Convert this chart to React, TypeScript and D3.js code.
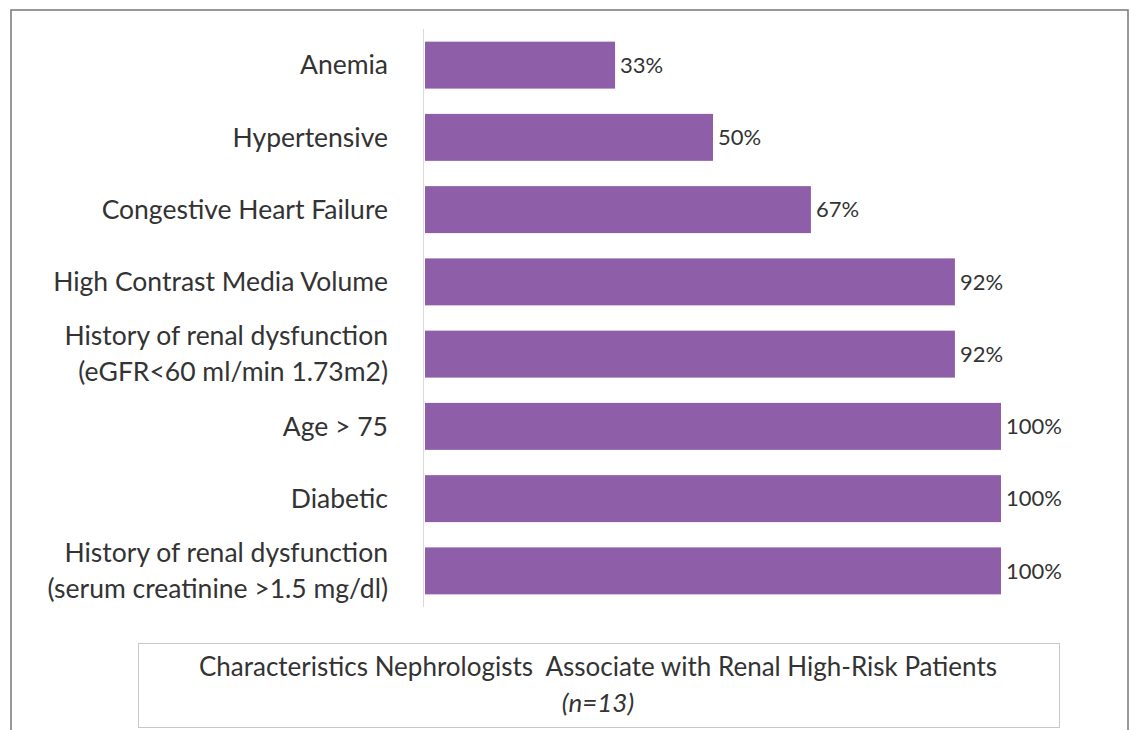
import React from "react";
import * as d3 from "d3";

const categories: string[][] = [
  ["Anemia"],
  ["Hypertensive"],
  ["Congestive Heart Failure"],
  ["High Contrast Media Volume"],
  ["History of renal dysfunction", "(eGFR<60 ml/min 1.73m2)"],
  ["Age > 75"],
  ["Diabetic"],
  ["History of renal dysfunction", "(serum creatinine >1.5 mg/dl)"],
];
const values: number[] = [33, 50, 67, 92, 92, 100, 100, 100];
const titleLine1 = "Characteristics Nephrologists  Associate with Renal High-Risk Patients";
const titleLine2 = "(n=13)";

const FONT = "Lato, 'Open Sans', sans-serif";
const TEXT = "#333333";
const BAR = "#8e5ea9";

export default function App() {
  const W = 1131;
  const H = 730;
  const ids = categories.map((_, i) => String(i));
  const y = d3.scaleBand<string>().domain(ids).range([29, 607]).paddingInner(0.35).paddingOuter(0.175);
  const x = d3.scaleLinear().domain([0, 100]).range([425, 1001]);

  return (
    <svg width={W} height={H} style={{ position: "absolute", left: 0, top: 0, background: "#fff" }}>
      <rect x={0} y={0} width={W} height={H} fill="#fff" />
      <rect x={11} y={10} width={1117} height={H} fill="none" stroke="#777" strokeWidth={1.5} />
      <line x1={423.5} x2={423.5} y1={29} y2={607} stroke="#d9d9d9" strokeWidth={1} />
      {categories.map((lines, i) => {
        const y0 = y(String(i))!;
        const cy = y0 + y.bandwidth() / 2;
        return (
          <g key={i}>
            <rect x={x(0)} y={y0} width={x(values[i]) - x(0)} height={y.bandwidth()} fill={BAR} />
            <text x={x(values[i]) + 5} y={cy} dy="0.35em" fontFamily={FONT} fontSize={22} fill={TEXT}>
              {values[i]}%
            </text>
            {lines.map((ln, j) => (
              <text
                key={j}
                x={388}
                y={cy + (j - (lines.length - 1) / 2) * 36}
                dy="0.35em"
                textAnchor="end"
                fontFamily={FONT}
                fontSize={26.5}
                fill={TEXT}
              >
                {ln}
              </text>
            ))}
          </g>
        );
      })}
      <rect x={138.5} y={643.5} width={921} height={84} fill="#fff" stroke="#c8c8c8" strokeWidth={1} />
      <text x={598} y={667} dy="0.35em" textAnchor="middle" fontFamily={FONT} fontSize={26} fill={TEXT} style={{ whiteSpace: "pre" }}>
        {titleLine1}
      </text>
      <text x={598} y={703} dy="0.35em" textAnchor="middle" fontFamily={FONT} fontSize={26} fontStyle="italic" fill={TEXT}>
        {titleLine2}
      </text>
    </svg>
  );
}
